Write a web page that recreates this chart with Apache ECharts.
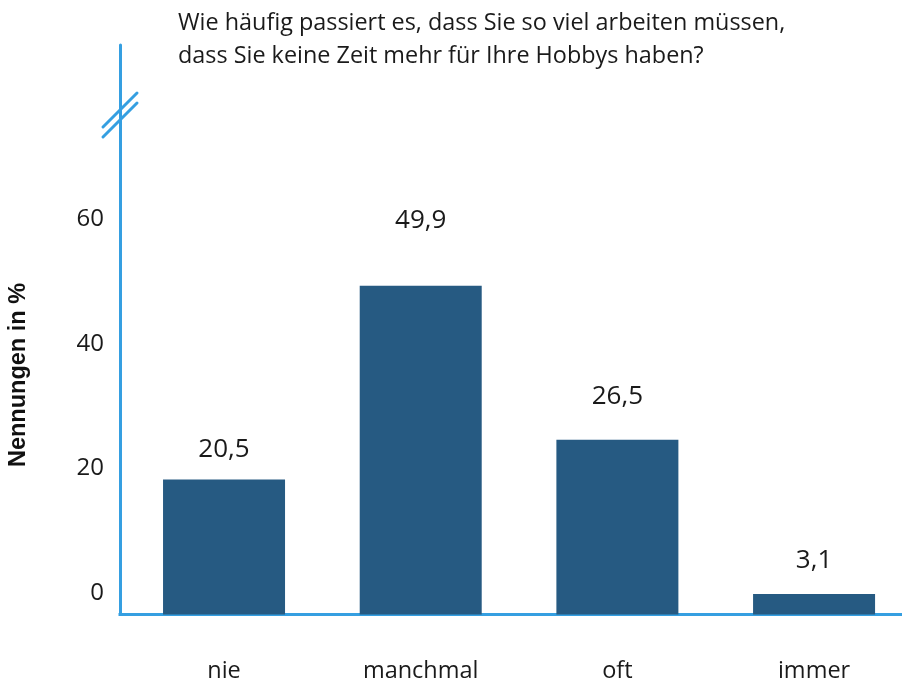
<!DOCTYPE html>
<html><head><meta charset="utf-8">
<script src="https://cdn.jsdelivr.net/npm/echarts@6/dist/echarts.min.js"></script>
<style>html,body{margin:0;padding:0;background:#fff}#c{width:902px;height:689px}</style>
</head><body><div id="c"></div>
<script>
const titleLines = ['Wie häufig passiert es, dass Sie so viel arbeiten müssen,', 'dass Sie keine Zeit mehr für Ihre Hobbys haben?'];
const categories = ['nie', 'manchmal', 'oft', 'immer'];
const values = [20.5, 49.9, 26.5, 3.1];
const valueLabels = ['20,5', '49,9', '26,5', '3,1'];
const tickLabels = [0, 20, 40, 60];
const axisName = 'Nennungen in %';
const labelGaps = [17, 52, 30, 20];

const barColor = '#265a82';
const axisColor = '#359fe1';
const font = '"Open Sans", "Noto Sans", sans-serif';

const chart = echarts.init(document.getElementById('c'), null, {renderer: 'canvas'});
chart.setOption({
  animation: false,
  backgroundColor: '#fff',
  title: {
    text: titleLines.join('\n'), left: 178, top: 7, padding: 0,
    textStyle: {fontFamily: font, fontSize: 23.4, fontWeight: 'normal', color: '#1a1a1a', lineHeight: 33}
  },
  grid: {left: 125.7, width: 786.7, top: 45, bottom: 74.5, containLabel: false, outerBoundsMode: 'none'},
  xAxis: {
    type: 'category', data: categories,
    axisLine: {onZero: false, lineStyle: {color: axisColor, width: 3}},
    axisTick: {show: false},
    axisLabel: {margin: 45, fontFamily: font, fontSize: 23.5, color: '#1a1a1a'}
  },
  yAxis: [{
    type: 'value', min: -3.45, max: 87.92, offset: 5.7,
    axisLine: {show: true, lineStyle: {color: axisColor, width: 3}},
    axisTick: {show: false},
    splitLine: {show: false},
    axisLabel: {customValues: tickLabels, margin: 16, fontFamily: font, fontSize: 24, color: '#1a1a1a'}
  }, {
    type: 'value', min: 0, max: 86.42, show: false, splitLine: {show: false}
  }],
  graphic: [
    {type: 'line', shape: {x1: 118.5, y1: 614.5, x2: 128, y2: 614.5}, style: {stroke: axisColor, lineWidth: 3}},
    {type: 'line', shape: {x1: 103, y1: 127, x2: 137, y2: 93}, style: {stroke: axisColor, lineWidth: 3, lineCap: 'round'}},
    {type: 'line', shape: {x1: 103, y1: 137, x2: 137, y2: 103}, style: {stroke: axisColor, lineWidth: 3, lineCap: 'round'}},
    {type: 'text', x: 19, y: 375, rotation: Math.PI / 2,
     style: {text: axisName, fontFamily: '"Liberation Sans", Arial, sans-serif', fontWeight: 'bold', fontSize: 23.5, fill: '#111', align: 'center', verticalAlign: 'middle'}}
  ],
  series: [{
    type: 'bar', yAxisIndex: 1, barWidth: 122,
    itemStyle: {color: barColor},
    data: values.map((v, i) => ({
      value: v,
      label: {show: true, position: 'top', distance: labelGaps[i], formatter: valueLabels[i],
              fontFamily: font, fontSize: 26, color: '#1a1a1a'}
    }))
  }]
});
</script></body></html>
